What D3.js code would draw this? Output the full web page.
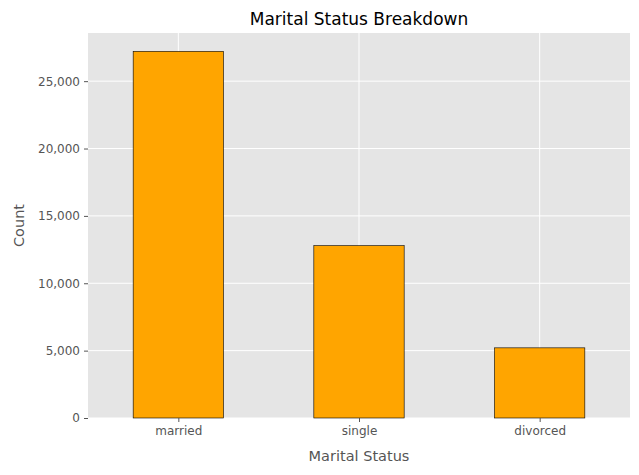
<!DOCTYPE html>
<html><head><meta charset="utf-8">
<script src="https://cdn.jsdelivr.net/npm/d3@7"></script>
<style>body{margin:0;background:#fff}</style>
</head><body>
<div id="chart"></div>
<script>
// data
var categories = ["married", "single", "divorced"];
var counts = [27214, 12790, 5207];
var yTicks = [0, 5000, 10000, 15000, 20000, 25000];

var svgWidth = 639, svgHeight = 475;
var margin = {top: 33, right: 9, bottom: 57, left: 88};
var width = svgWidth - margin.left - margin.right;
var height = svgHeight - margin.top - margin.bottom;

var svg = d3.select("#chart").append("svg")
  .attr("width", svgWidth).attr("height", svgHeight)
  .style("font-family", "DejaVu Sans");

var g = svg.append("g").attr("transform", `translate(${margin.left},${margin.top})`);

var x = d3.scaleLinear().domain([-0.5, categories.length - 0.5]).range([0, width]);
var y = d3.scaleLinear().domain([0, d3.max(counts) * 1.05]).range([height, 0]);

g.append("rect").attr("width", width).attr("height", height).attr("fill", "#e5e5e5");

// grid
g.selectAll(".hg").data(yTicks).enter().append("line")
  .attr("x1", 0).attr("x2", width)
  .attr("y1", d => y(d)).attr("y2", d => y(d))
  .attr("stroke", "#fff").attr("stroke-width", 1);
g.selectAll(".vg").data(categories).enter().append("line")
  .attr("x1", (d, i) => x(i)).attr("x2", (d, i) => x(i))
  .attr("y1", 0).attr("y2", height)
  .attr("stroke", "#fff").attr("stroke-width", 1);

// bars
g.selectAll(".bar").data(counts).enter().append("rect")
  .attr("x", (d, i) => x(i - 0.25))
  .attr("width", x(0.25) - x(-0.25))
  .attr("y", d => y(d))
  .attr("height", d => height - y(d))
  .attr("fill", "#ffa500").attr("stroke", "#000").attr("stroke-width", 0.6);

// axes
var yAxis = g.append("g").call(d3.axisLeft(y).tickValues(yTicks).tickSize(4).tickPadding(4));
var xAxis = g.append("g").attr("transform", `translate(0,${height})`)
  .call(d3.axisBottom(x).tickValues(d3.range(categories.length)).tickFormat(i => categories[i]).tickSize(4).tickPadding(4));
[yAxis, xAxis].forEach(a => {
  a.select(".domain").remove();
  a.selectAll(".tick line").attr("stroke", "#555");
  a.selectAll(".tick text").attr("fill", "#555").style("font-size", "12px").style("font-family", "DejaVu Sans");
});

svg.append("text").attr("x", margin.left + width / 2).attr("y", 25)
  .attr("text-anchor", "middle").style("font-size", "17px").text("Marital Status Breakdown");
svg.append("text").attr("x", margin.left + width / 2).attr("y", 461)
  .attr("text-anchor", "middle").attr("fill", "#555").style("font-size", "14.5px").text("Marital Status");
svg.append("text").attr("transform", `translate(24,${margin.top + height / 2}) rotate(-90)`)
  .attr("text-anchor", "middle").attr("fill", "#555").style("font-size", "14.5px").text("Count");
</script>
</body></html>
